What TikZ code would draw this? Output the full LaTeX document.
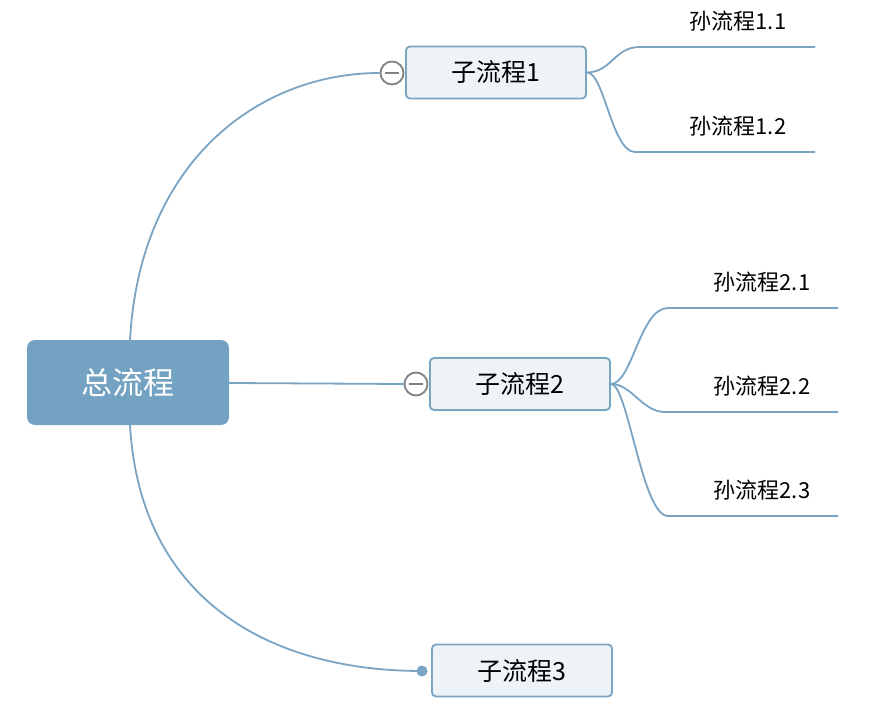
\documentclass[tikz,border=0pt]{standalone}
\usepackage{fontspec}
\setmainfont{Noto Sans CJK SC}
\begin{document}
\begin{tikzpicture}[x=1pt,y=-1pt,
  conn/.style={draw=lineblue,line width=1.8pt},
  rootbox/.style={rectangle,rounded corners=8pt,fill=rootblue,text=white,minimum width=202pt,minimum height=85pt,inner sep=0pt,font=\fontsize{31}{34}\selectfont},
  childbox/.style={rectangle,rounded corners=4pt,fill=childfill,draw=lineblue,line width=1.8pt,minimum width=180pt,minimum height=52pt,inner sep=0pt,font=\fontsize{25}{28}\selectfont},
  gclabel/.style={inner sep=0pt,font=\fontsize{22}{24}\selectfont},
  togglec/.style={circle,draw=togglegray,fill=white,line width=1.8pt,minimum size=23pt,inner sep=0pt},
  dotc/.style={circle,fill=lineblue,minimum size=11pt,inner sep=0pt}
]
\definecolor{lineblue}{HTML}{7AA4C4}
\definecolor{rootblue}{HTML}{74A2C2}
\definecolor{childfill}{HTML}{EEF3F7}
\definecolor{togglegray}{HTML}{808080}
\useasboundingbox (0,0) rectangle (880,708);
\fill[white] (0,0) rectangle (880,708);

% root
\coordinate (rtop) at (130,340);
\coordinate (rbot) at (130,425);
\coordinate (rright) at (229,383);

% children
\node[childbox] (c1) at (496,72.5) {子流程1};
\node[childbox] (c2) at (520,384) {子流程2};
\node[childbox] (c3) at (522,670.5) {子流程3};

\node[togglec] (t1) at (392,73) {};
\node[togglec] (t2) at (416,384) {};
\node[dotc] (d3) at (422,671) {};

\draw[conn] (rtop) .. controls (140,160) and (260,73) .. (t1.west);
\draw[conn] (rright) -- (t2.west);
\draw[conn] (rbot) .. controls (140,600) and (270,671) .. (d3.center);

\node[rootbox] (root) at (128,382.5) {总流程};

\draw[togglegray,line width=1.8pt] ([xshift=-7pt]t1.center) -- ([xshift=7pt]t1.center);
\draw[togglegray,line width=1.8pt] ([xshift=-7pt]t2.center) -- ([xshift=7pt]t2.center);

% grandchildren of c1
\coordinate (g11a) at (640,47); \coordinate (g11b) at (815,47);
\coordinate (g12a) at (635,152); \coordinate (g12b) at (815,152);
\node[gclabel] (g11) at (738,21) {孙流程1.1};
\node[gclabel] (g12) at (738,126) {孙流程1.2};
\draw[conn] (c1.east) .. controls (612,72) and (614,47) .. (g11a) -- (g11b);
\draw[conn] (c1.east) .. controls (604,72) and (612,152) .. (g12a) -- (g12b);

% grandchildren of c2
\coordinate (g21a) at (668,308); \coordinate (g21b) at (838,308);
\coordinate (g22a) at (665,412); \coordinate (g22b) at (838,412);
\coordinate (g23a) at (668,516); \coordinate (g23b) at (838,516);
\node[gclabel] (g21) at (762,282) {孙流程2.1};
\node[gclabel] (g22) at (762,386) {孙流程2.2};
\node[gclabel] (g23) at (762,490) {孙流程2.3};
\draw[conn] (c2.east) .. controls (632,384) and (640,308) .. (g21a) -- (g21b);
\draw[conn] (c2.east) .. controls (632,384) and (642,412) .. (g22a) -- (g22b);
\draw[conn] (c2.east) .. controls (628,384) and (642,516) .. (g23a) -- (g23b);
\end{tikzpicture}
\end{document}
